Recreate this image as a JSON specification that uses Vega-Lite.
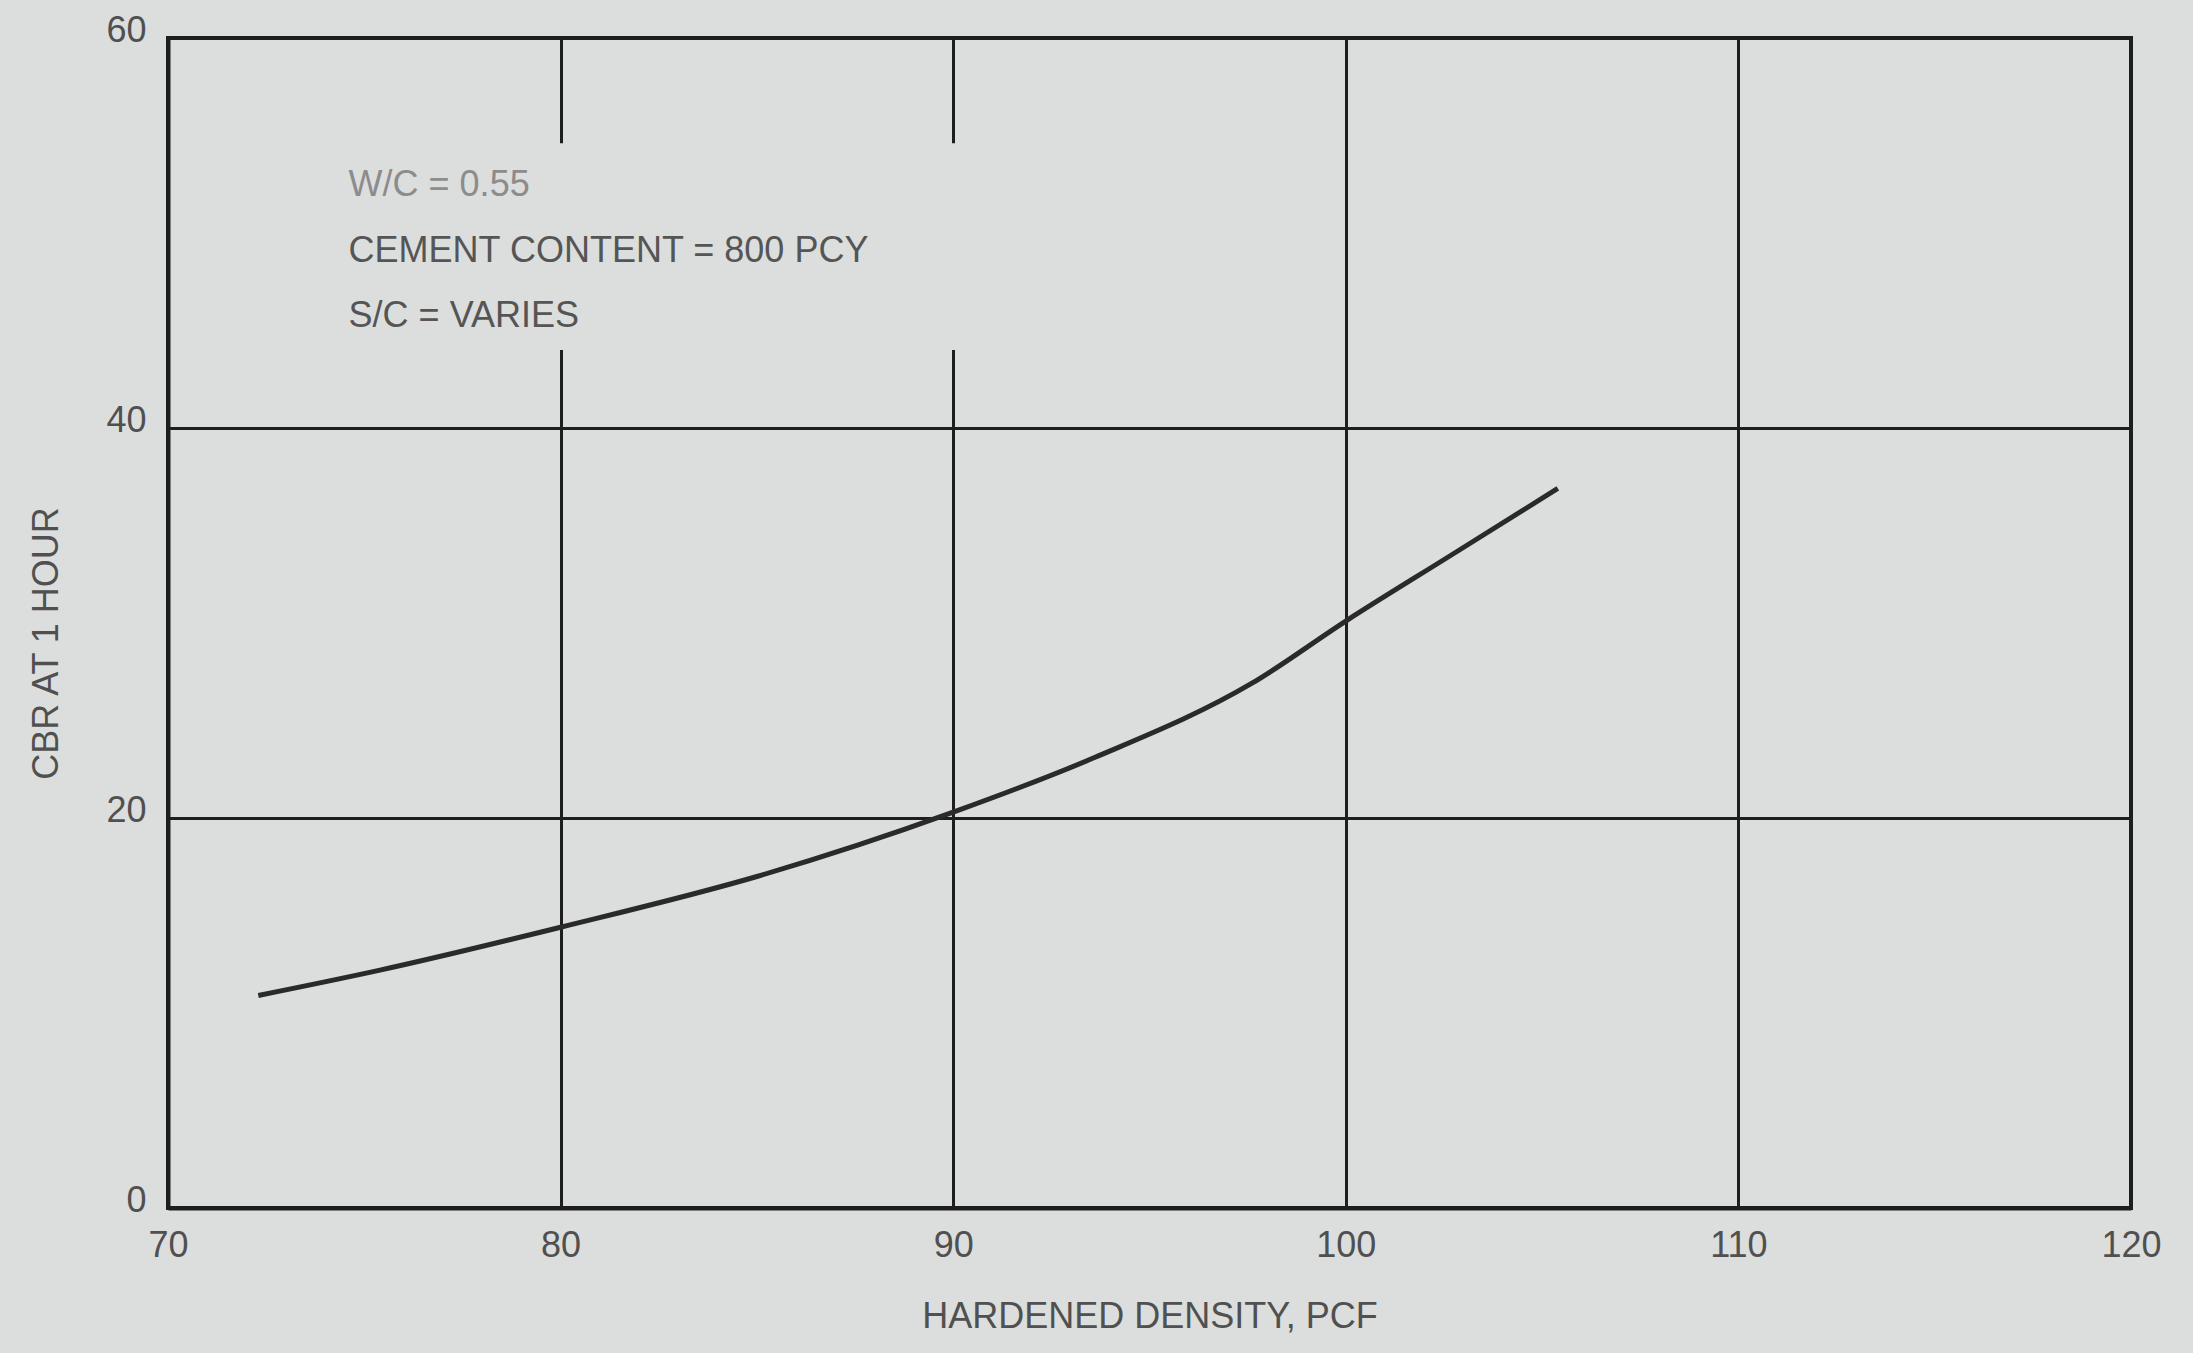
{
  "$schema": "https://vega.github.io/schema/vega-lite/v6.json",
  "width": 1963,
  "height": 1170,
  "autosize": {"type": "none"},
  "padding": {"left": 168, "top": 38, "right": 62, "bottom": 145},
  "background": "#dcdedd",
  "config": {
    "view": {"stroke": "#1e1e1e", "strokeWidth": 4, "fill": "#dcdedd"},
    "font": "Liberation Sans",
    "axis": {
      "domainColor": "#1e1e1e",
      "domainWidth": 4,
      "gridColor": "#1e1e1e",
      "gridWidth": 3,
      "gridOpacity": 1,
      "ticks": false,
      "labelFlush": false,
      "labelOverlap": false,
      "labelFont": "Liberation Sans",
      "labelFontSize": 36,
      "labelColor": "#505050",
      "titleFont": "Liberation Sans",
      "titleFontSize": 36,
      "titleFontWeight": "normal",
      "titleColor": "#505050"
    }
  },
  "datasets": {
    "curve": [
      {"density": 72.3, "cbr": 10.9},
      {"density": 75.4, "cbr": 12.2},
      {"density": 80.0, "cbr": 14.4},
      {"density": 85.0, "cbr": 17.0},
      {"density": 90.0, "cbr": 20.3},
      {"density": 93.6, "cbr": 23.1},
      {"density": 97.6, "cbr": 26.9},
      {"density": 100.0, "cbr": 30.1},
      {"density": 102.7, "cbr": 33.5},
      {"density": 105.4, "cbr": 36.9}
    ],
    "notes": [
      {"x": 74.6, "y": 51.9, "label": "W/C = 0.55", "tone": "light"},
      {"x": 74.6, "y": 48.5, "label": "CEMENT CONTENT = 800 PCY", "tone": "dark"},
      {"x": 74.6, "y": 45.2, "label": "S/C = VARIES", "tone": "dark"}
    ],
    "notebox": [
      {"x1": 74, "x2": 96, "y1": 44.0, "y2": 54.6}
    ]
  },
  "encoding": {
    "x": {
      "type": "quantitative",
      "scale": {"domain": [70, 120], "nice": false, "zero": false},
      "axis": {
        "title": "HARDENED DENSITY, PCF",
        "values": [70, 80, 90, 100, 110, 120],
        "labelPadding": 20,
        "titlePadding": 36,
        "grid": true
      }
    },
    "y": {
      "type": "quantitative",
      "scale": {"domain": [0, 60], "nice": false},
      "axis": {
        "title": "CBR AT 1 HOUR",
        "values": [0, 20, 40, 60],
        "labelPadding": 22,
        "labelOffset": -8,
        "titlePadding": 40,
        "titleY": 605,
        "grid": true
      }
    }
  },
  "layer": [
    {
      "data": {"name": "notebox"},
      "mark": {"type": "rect", "fill": "#dcdedd"},
      "encoding": {
        "x": {"field": "x1", "type": "quantitative"},
        "x2": {"field": "x2"},
        "y": {"field": "y1", "type": "quantitative"},
        "y2": {"field": "y2"}
      }
    },
    {
      "data": {"name": "notes"},
      "mark": {"type": "text", "align": "left", "baseline": "alphabetic", "fontSize": 36, "font": "Liberation Sans"},
      "encoding": {
        "x": {"field": "x", "type": "quantitative"},
        "y": {"field": "y", "type": "quantitative"},
        "text": {"field": "label"},
        "color": {
          "field": "tone",
          "type": "nominal",
          "scale": {"domain": ["light", "dark"], "range": ["#8c8c8c", "#555555"]},
          "legend": null
        }
      }
    },
    {
      "data": {"name": "curve"},
      "mark": {"type": "line", "interpolate": "monotone", "color": "#2a2a2a", "strokeWidth": 5},
      "encoding": {
        "x": {"field": "density", "type": "quantitative"},
        "y": {"field": "cbr", "type": "quantitative"}
      }
    }
  ]
}
